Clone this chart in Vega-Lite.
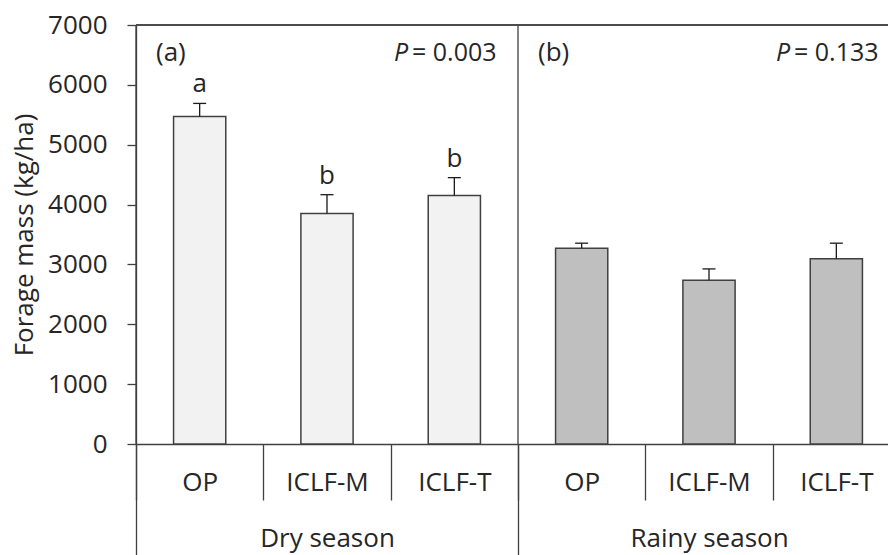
{
  "$schema": "https://vega.github.io/schema/vega-lite/v6.json",
  "width": 752,
  "height": 419,
  "autosize": {"type": "none"},
  "padding": {"left": 136, "top": 25, "right": 0, "bottom": 111},
  "config": {
    "font": "Open Sans",
    "view": {"stroke": null},
    "axis": {
      "labelColor": "#262626",
      "titleColor": "#262626",
      "labelFontSize": 26,
      "titleFontSize": 26,
      "titleFontWeight": "normal",
      "domainColor": "#404040",
      "tickColor": "#404040",
      "domainWidth": 1.3,
      "tickWidth": 1.3,
      "grid": false
    },
    "text": {"color": "#262626", "fontSize": 26}
  },
  "datasets": {
    "bars": [
      {"season": "Dry season", "treatment": "OP", "key": "Dry season|OP", "mass": 5470, "hi": 5690, "letter": "a"},
      {"season": "Dry season", "treatment": "ICLF-M", "key": "Dry season|ICLF-M", "mass": 3850, "hi": 4165, "letter": "b"},
      {"season": "Dry season", "treatment": "ICLF-T", "key": "Dry season|ICLF-T", "mass": 4150, "hi": 4450, "letter": "b"},
      {"season": "Rainy season", "treatment": "OP", "key": "Rainy season|OP", "mass": 3270, "hi": 3355, "letter": ""},
      {"season": "Rainy season", "treatment": "ICLF-M", "key": "Rainy season|ICLF-M", "mass": 2735, "hi": 2925, "letter": ""},
      {"season": "Rainy season", "treatment": "ICLF-T", "key": "Rainy season|ICLF-T", "mass": 3095, "hi": 3355, "letter": ""}
    ],
    "panels": [
      {"season": "Dry season", "panel": "(a)", "p": "= 0.003"},
      {"season": "Rainy season", "panel": "(b)", "p": "= 0.133"}
    ]
  },
  "layer": [
    {
      "data": {"name": "bars"},
      "layer": [
        {
          "mark": {"type": "bar", "stroke": "#404040", "strokeWidth": 1.5, "width": {"band": 0.41}},
          "encoding": {
            "x": {
              "field": "key", "type": "nominal", "sort": null,
              "scale": {"range": [0, 764], "paddingInner": 0, "paddingOuter": 0},
              "axis": {
                "orient": "bottom",
                "title": null, "tickBand": "extent", "tickSize": 56,
                "labelExpr": "split(datum.value, '|')[1]",
                "labelPadding": -18, "labelBaseline": "middle", "labelAngle": 0,
                "labelOverlap": false, "labelBound": false
              }
            },
            "y": {
              "field": "mass", "type": "quantitative",
              "scale": {"domain": [0, 7000], "nice": false},
              "axis": {
                "title": "Forage mass (kg/ha)",
                "values": [0, 1000, 2000, 3000, 4000, 5000, 6000, 7000],
                "format": "d",
                "tickSize": 9, "labelPadding": 20, "titlePadding": 10
              }
            },
            "fill": {
              "field": "season", "type": "nominal",
              "scale": {"domain": ["Dry season", "Rainy season"], "range": ["#f2f2f2", "#bfbfbf"]},
              "legend": null
            }
          }
        },
        {
          "mark": {"type": "rule", "color": "#1a1a1a", "strokeWidth": 1.3},
          "encoding": {
            "x": {"field": "key", "type": "nominal", "sort": null},
            "y": {"field": "mass", "type": "quantitative", "title": "Forage mass (kg/ha)"},
            "y2": {"field": "hi"}
          }
        },
        {
          "mark": {"type": "tick", "orient": "horizontal", "size": 13, "thickness": 1.3, "color": "#1a1a1a", "opacity": 1},
          "encoding": {
            "x": {"field": "key", "type": "nominal", "sort": null},
            "y": {"field": "hi", "type": "quantitative", "title": "Forage mass (kg/ha)"}
          }
        },
        {
          "mark": {"type": "text", "baseline": "alphabetic", "dy": -11, "fontSize": 26},
          "encoding": {
            "x": {"field": "key", "type": "nominal", "sort": null},
            "y": {"field": "hi", "type": "quantitative", "title": "Forage mass (kg/ha)"},
            "text": {"field": "letter"}
          }
        }
      ]
    },
    {
      "data": {"name": "panels"},
      "layer": [
        {
          "mark": {"type": "rule", "color": "#404040", "strokeWidth": 1.3},
          "encoding": {
            "x": {
              "field": "season", "type": "nominal", "sort": null, "bandPosition": 0,
              "scale": {"range": [0, 764], "paddingInner": 0, "paddingOuter": 0},
              "axis": {
                "orient": "bottom",
                "title": null, "tickBand": "extent", "tickSize": 111, "domain": false,
                "labelPadding": -17, "labelBaseline": "middle", "labelAngle": 0,
                "labelOverlap": false, "labelBound": false
              }
            },
            "y": {"datum": 7000},
            "y2": {"datum": 0}
          }
        },
        {
          "mark": {"type": "rule", "color": "#404040", "strokeWidth": 1.3},
          "encoding": {"y": {"datum": 7000}}
        },
        {
          "mark": {"type": "text", "align": "left", "baseline": "middle", "dx": 20, "fontSize": 26},
          "encoding": {
            "x": {"field": "season", "type": "nominal", "sort": null, "bandPosition": 0},
            "y": {"datum": 6530},
            "text": {"field": "panel"}
          }
        },
        {
          "mark": {"type": "text", "align": "left", "baseline": "middle", "dx": -124, "fontSize": 25, "fontStyle": "italic"},
          "encoding": {
            "x": {"field": "season", "type": "nominal", "sort": null, "bandPosition": 1},
            "y": {"datum": 6530},
            "text": {"value": "P"}
          }
        },
        {
          "mark": {"type": "text", "align": "left", "baseline": "middle", "dx": -106, "fontSize": 25},
          "encoding": {
            "x": {"field": "season", "type": "nominal", "sort": null, "bandPosition": 1},
            "y": {"datum": 6530},
            "text": {"field": "p"}
          }
        }
      ]
    }
  ],
  "resolve": {"scale": {"x": "independent"}}
}
